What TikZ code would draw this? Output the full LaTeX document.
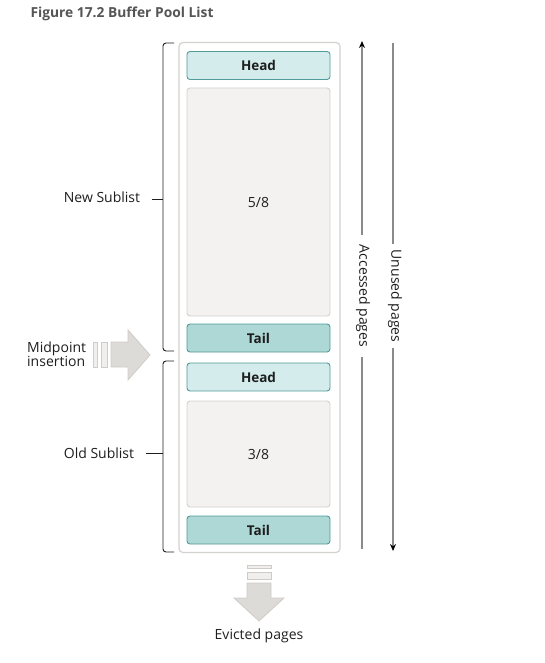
\documentclass[tikz,border=0pt]{standalone}
\usepackage{fontspec}
\setmainfont{Open Sans}
\usetikzlibrary{arrows.meta}
\definecolor{txt}{HTML}{1E1E1E}
\definecolor{titletxt}{HTML}{555555}
\definecolor{headfill}{HTML}{D4ECEC}
\definecolor{tailfill}{HTML}{ADD8D6}
\definecolor{tealline}{HTML}{4F9C98}
\definecolor{pagefill}{HTML}{F3F2F1}
\definecolor{pageline}{HTML}{D5D2CD}
\definecolor{arrowfill}{HTML}{DDDBD7}
\definecolor{arrowline}{HTML}{CFCCC7}
\definecolor{barfill}{HTML}{F0EFED}
\definecolor{guide}{HTML}{8A8A8A}
\begin{document}
\begin{tikzpicture}[x=1pt,y=-1pt,
    every node/.style={font=\fontsize{14}{16}\selectfont,text=txt},
    pool/.style={draw=pageline,fill=white,rounded corners=4pt,line width=1.2pt,minimum width=161pt,minimum height=510pt},
    headbox/.style={draw=tealline,fill=headfill,rounded corners=3pt,line width=0.9pt,minimum width=143pt,minimum height=28pt,font=\fontsize{13.5}{16}\selectfont\bfseries},
    tailbox/.style={headbox,fill=tailfill},
    pagebox/.style={draw=pageline,fill=pagefill,rounded corners=3pt,line width=0.9pt,minimum width=143pt},
    brace/.style={draw=txt,line width=0.9pt,rounded corners=3pt},
    fatarrow/.style={draw=arrowline,fill=arrowfill,line width=0.8pt},
    bar/.style={draw=arrowline,fill=barfill,line width=0.8pt},
    guideline/.style={draw=guide,line width=1.5pt},
    tip/.style={-{Stealth[length=7pt,width=6pt,color=black]}}]
    \useasboundingbox (0,0) rectangle (544,663);

    \node[anchor=base west,text=titletxt,font=\fontsize{13.8}{16}\selectfont\bfseries] (title) at (27,18) {Figure 17.2 Buffer Pool List};

    % buffer pool
    \node[pool] (pool) at (259.5,297.5) {};
    \node[headbox] (head1) at (258.5,65.5) {Head};
    \node[pagebox,minimum height=228pt] (new) at (258.5,202) {5/8};
    \node[tailbox] (tail1) at (258.5,338) {Tail};
    \node[headbox] (head2) at (258.5,377) {Head};
    \node[pagebox,minimum height=106pt] (old) at (258.5,454) {3/8};
    \node[tailbox] (tail2) at (258.5,530) {Tail};

    % sublists
    \node (newl) at (102,197) {New Sublist};
    \node (oldl) at (99,453) {Old Sublist};
    \coordinate (nb) at (163,199);
    \coordinate (ob) at (163,453);
    \draw[brace] (174,43) -| (nb) |- (174,351);
    \draw[brace] (174,361) -| (ob) |- (174,552);
    \draw[brace,shorten <=8pt] (newl.east |- nb) -- (nb);
    \draw[brace,shorten <=8pt] (oldl.east |- ob) -- (ob);

    % midpoint insertion
    \node[anchor=west,align=left,inner sep=0pt,font=\fontsize{14}{14.5}\selectfont] (mid) at (27,354) {Midpoint\\insertion};
    \draw[bar] (93,342) rectangle (97,367);
    \draw[bar] (101,342) rectangle (107,367);
    \draw[fatarrow] (111,342) -- (128,342) -- (128,330) -- (150,355) -- (128,380) -- (128,367) -- (111,367) -- cycle;

    % evicted pages
    \draw[bar] (247,565) rectangle (271,568);
    \draw[bar] (247,572) rectangle (271,579);
    \draw[fatarrow] (247,583) -- (271,583) -- (271,598) -- (284,598) -- (259,621) -- (234,598) -- (247,598) -- cycle;
    \node (evict) at (259,636) {Evicted pages};

    % page flows
    \node[rotate=-90,inner xsep=10pt] (acc) at (363,296) {Accessed pages};
    \node[rotate=-90,inner xsep=5pt] (unused) at (395,296) {Unused pages};
    \coordinate (acctop) at (362,41);
    \coordinate (accbot) at (362,549);
    \coordinate (untop) at (393,43);
    \coordinate (unbot) at (393,551);
    \draw[guideline,tip] (acc.west -| acctop) -- (acctop);
    \draw[guideline] (acc.east -| accbot) -- (accbot);
    \draw[guideline] (untop) -- (unused.west -| untop);
    \draw[guideline,tip] (unused.east -| unbot) -- (unbot);
\end{tikzpicture}
\end{document}
